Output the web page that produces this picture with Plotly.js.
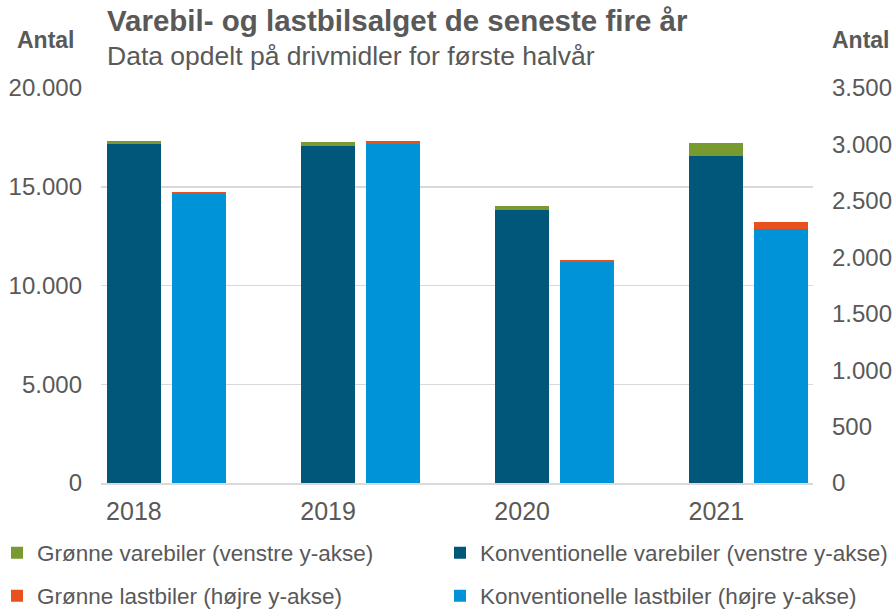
<!DOCTYPE html>
<html>
<head>
<meta charset="utf-8">
<script src="https://cdn.plot.ly/plotly-3.0.1.min.js"></script>
<style>html,body{margin:0;padding:0;background:#fff;}#chart{width:893px;height:609px;}</style>
</head>
<body>
<div id="chart"></div>
<script>
// Data
const years = ['2018', '2019', '2020', '2021'];
const konvVarebiler = [17150, 17080, 13810, 16570];   // left axis
const gronneVarebiler = [150, 170, 200, 630];         // left axis
const konvLastbiler = [2565, 3000, 1958, 2250];       // right axis
const gronneLastbiler = [14, 30, 22, 62];             // right axis
const leftTicks = [0, 5000, 10000, 15000, 20000];
const rightTicks = [0, 500, 1000, 1500, 2000, 2500, 3000, 3500];

const txt = '#595959';
const FONT = 'Arial, "Liberation Sans", sans-serif';
const BW = 0.278;

const traces = [
  {type:'bar', name:'Konventionelle varebiler (venstre y-akse)', x:years, y:konvVarebiler,
   yaxis:'y', offset:-0.139, width:BW, marker:{color:'#00577a'}, legend:'legend2'},
  {type:'bar', name:'Grønne varebiler (venstre y-akse)', x:years, y:gronneVarebiler,
   yaxis:'y', offset:-0.139, width:BW, marker:{color:'#789a30'}, legend:'legend'},
  {type:'bar', name:'Konventionelle lastbiler (højre y-akse)', x:years, y:konvLastbiler,
   yaxis:'y2', offset:0.195, width:BW, marker:{color:'#0093d7'}, legend:'legend4'},
  {type:'bar', name:'Grønne lastbiler (højre y-akse)', x:years, y:gronneLastbiler,
   yaxis:'y2', offset:0.195, width:BW, marker:{color:'#e8501e'}, legend:'legend3'}
];

function leg(px, py) {
  return {
    visible:true, orientation:'h', xanchor:'left', yanchor:'middle',
    x:(px-101)/712, y:(483-py)/395,
    font:{family:FONT, size:22.5, color:txt}, bgcolor:'rgba(0,0,0,0)'
  };
}

const layout = {
  width:893, height:609,
  margin:{l:101, r:80, t:88, b:126, pad:0, autoexpand:false},
  paper_bgcolor:'#fff', plot_bgcolor:'#fff',
  separators:',.',
  barmode:'stack',
  showlegend:true,
  font:{family:FONT, size:23, color:txt},
  title:{
    text:'<b>Varebil- og lastbilsalget de seneste fire år</b>',
    font:{family:FONT, size:29.5, color:txt},
    xref:'container', yref:'container', x:107/893, xanchor:'left', y:1-10/609, yanchor:'top'
  },
  xaxis:{
    type:'category', range:[-0.1695, 3.498], showgrid:false,
    showline:true, linecolor:'#d9d9d9', linewidth:2, ticks:'',
    tickfont:{family:FONT, size:25, color:txt}, ticklabelstandoff:5, fixedrange:true
  },
  yaxis:{
    range:[0, 20000], tickvals:leftTicks, tickformat:',d',
    showgrid:true, gridcolor:'#d9d9d9', gridwidth:1.5, zeroline:false, showline:false,
    ticks:'', ticklabelstandoff:18, tickfont:{family:FONT, size:24, color:txt}
  },
  yaxis2:{
    range:[0, 3500], tickvals:rightTicks, tickformat:',d', overlaying:'y', side:'right',
    showgrid:false, zeroline:false, showline:false,
    ticks:'', ticklabelstandoff:18, tickfont:{family:FONT, size:24, color:txt}
  },
  legend:leg(-3, 553),
  legend2:leg(440, 553),
  legend3:leg(-3, 596),
  legend4:leg(440, 596),
  annotations:[
    {text:'Data opdelt på drivmidler for første halvår', xref:'paper', yref:'paper',
     x:(105-101)/712, y:(483-56)/395, xanchor:'left', yanchor:'middle', showarrow:false,
     font:{family:FONT, size:26.5, color:txt}},
    {text:'<b>Antal</b>', xref:'paper', yref:'paper', x:(45.5-101)/712, y:(483-39.5)/395,
     xanchor:'center', yanchor:'middle', showarrow:false, font:{family:FONT, size:23, color:txt}},
    {text:'<b>Antal</b>', xref:'paper', yref:'paper', x:(861.5-101)/712, y:(483-39.5)/395,
     xanchor:'center', yanchor:'middle', showarrow:false, font:{family:FONT, size:23, color:txt}}
  ]
};

Plotly.newPlot('chart', traces, layout, {displayModeBar:false, staticPlot:true});
</script>
</body>
</html>
